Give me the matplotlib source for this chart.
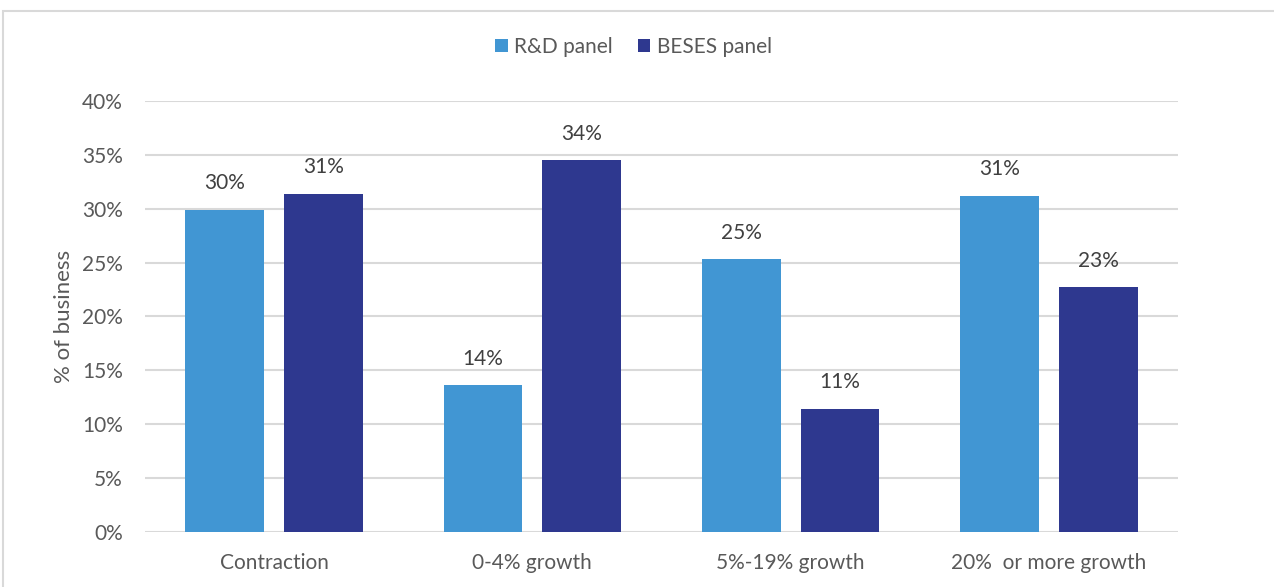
import matplotlib
matplotlib.use("Agg")
import matplotlib.pyplot as plt
from matplotlib.patches import Rectangle
from matplotlib.ticker import PercentFormatter
import numpy as np

# ─────────── Datos ───────────
categories = ["Contraction", "0-4% growth", "5%-19% growth", "20%  or more growth"]
rd_panel = [29.9, 13.6, 25.3, 31.2]
beses_panel = [31.4, 34.5, 11.4, 22.7]
series_names = ["R&D panel", "BESES panel"]

C_RD = "#4196D3"
C_BESES = "#2E388F"
C_TEXT = "#595959"
C_GRID = "#D9D9D9"

plt.rcParams["font.family"] = ["Lato", "DejaVu Sans"]

fig = plt.figure(figsize=(12.74, 5.87), dpi=100)
ax = fig.add_axes([0.1138, 0.0937, 0.8108, 0.7343])

# marco exterior gris claro
fig.patches.append(Rectangle((3 / 1274, -0.05), 1.1, 1 - 11 / 587 + 0.05,
                             transform=fig.transFigure, fill=False,
                             edgecolor=C_GRID, lw=1.5))

x = np.arange(len(categories))
w = 0.305
off = w / 2 + 0.039
b1 = ax.bar(x - off, rd_panel, w, color=C_RD, label=series_names[0], zorder=3)
b2 = ax.bar(x + off, beses_panel, w, color=C_BESES, label=series_names[1], zorder=3)

for bars, vals in ((b1, rd_panel), (b2, beses_panel)):
    for r, v in zip(bars, vals):
        ax.annotate(f"{v:.0f}%", (r.get_x() + r.get_width() / 2, v),
                    xytext=(0, 12), textcoords="offset points",
                    ha="center", va="bottom", fontsize=15, color="#404040")

ax.set_xlim(-0.5, 3.5)
ax.set_ylim(0, 40)
ax.set_yticks(range(0, 41, 5))
ax.yaxis.set_major_formatter(PercentFormatter(decimals=0))
ax.set_xticks(x)
ax.set_xticklabels(categories)
ax.grid(axis="y", color=C_GRID, lw=1.5, zorder=0)
for s in ax.spines.values():
    s.set_visible(False)
ax.tick_params(length=0, labelsize=15, colors=C_TEXT)
ax.tick_params(axis="x", pad=15)
ax.tick_params(axis="y", pad=16)
ax.set_ylabel("% of business", fontsize=16, color=C_TEXT, labelpad=6)

ax.legend(loc="center", bbox_to_anchor=(0.473, 1.125), ncol=2,
          frameon=False, fontsize=15, labelcolor=C_TEXT,
          handlelength=0.6, handleheight=0.6, handletextpad=0.3,
          columnspacing=1.2)

fig.savefig("out.png", dpi=100)
